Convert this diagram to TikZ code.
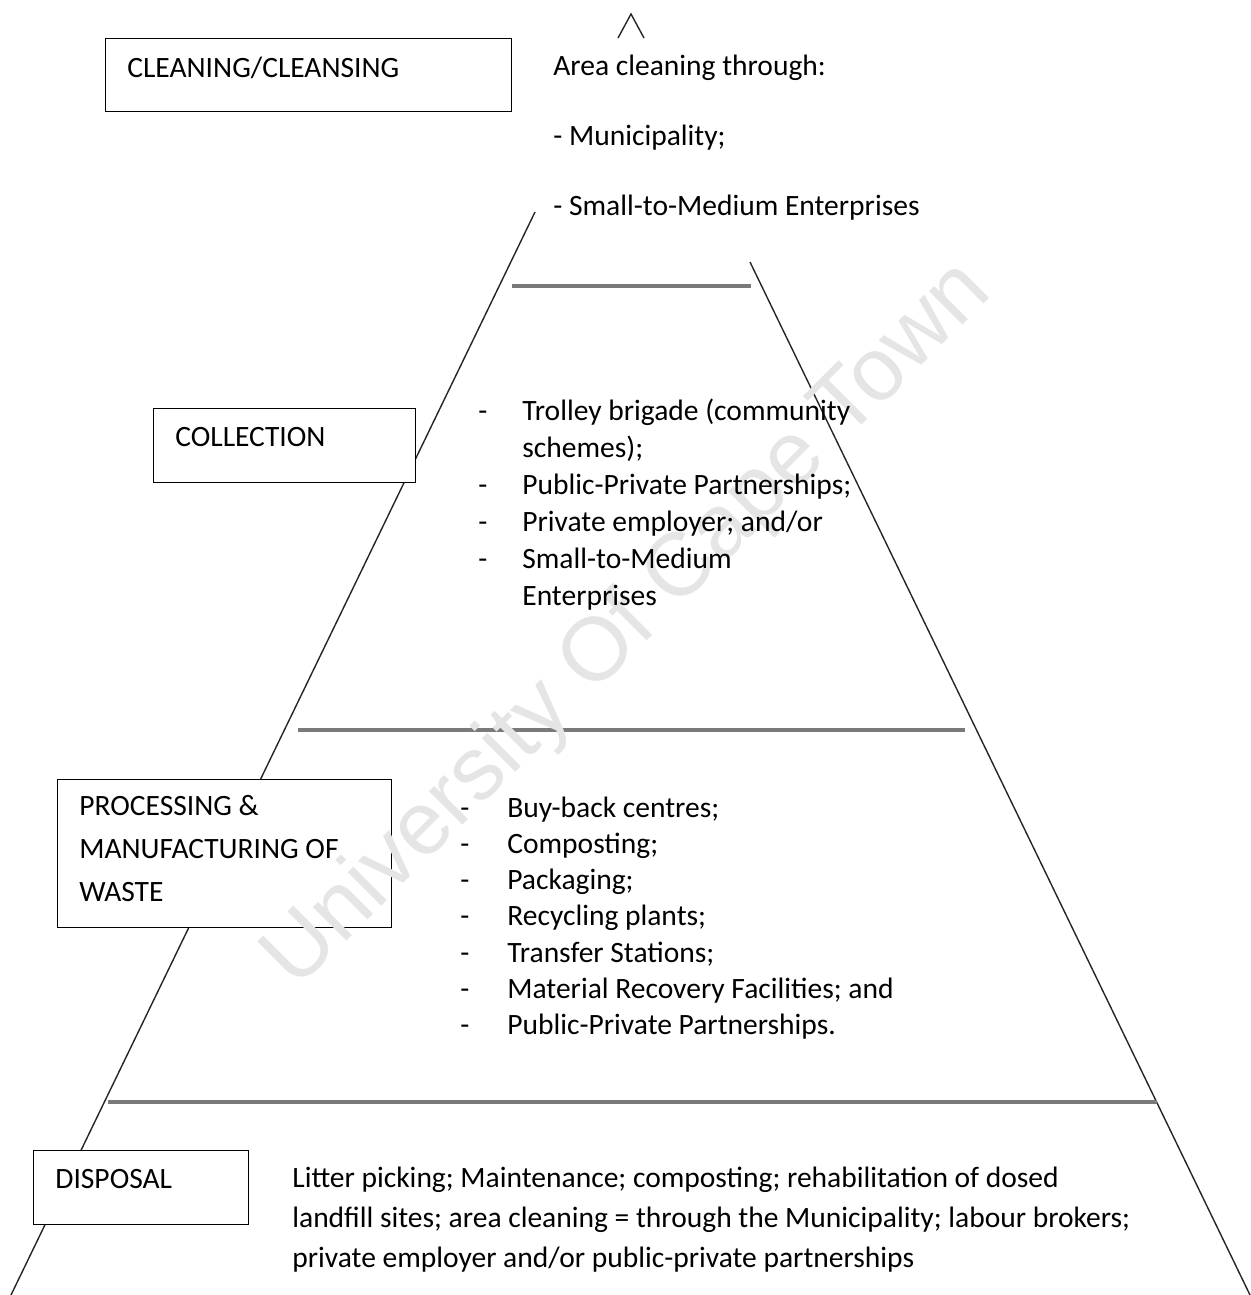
\documentclass[tikz,border=0pt]{standalone}
\usepackage{fontspec}
\setmainfont{Carlito}
\newfontfamily\wmfont{Liberation Sans}
\usetikzlibrary{positioning}

\tikzset{
  side/.style={black!85, line width=0.8pt},
  tier/.style={black!52, line width=1.8pt},
  stagebox/.style={draw, fill=white, line width=0.8pt, anchor=north west, inner sep=0pt},
  txt/.style={anchor=base west, inner sep=0pt, font=\fontsize{16.8}{19}\selectfont},
}

\begin{document}
\begin{tikzpicture}[x=0.02cm, y=-0.02cm]
  \useasboundingbox (0,0) rectangle (1251,1295);
   \coordinate (TopL) at (535,212);
   \coordinate (BotL) at (11,1295);
   \coordinate (TopR) at (750,262);
   \coordinate (BotR) at (1250,1295);
  \draw[side] (TopL) -- (BotL);
  \draw[side] (TopR) -- (BotR);
  \draw[side] (618,38) -- (631,14) -- (644,38);
  % tiers
  \draw[tier] (512,286) -- (751,286);
  \draw[tier] (298,730) -- (965,730);
  \draw[tier] (108,1102) -- (1157,1102);
  % stage boxes
  \node[stagebox, minimum width=8.12cm, minimum height=1.46cm] (clean) at (105,38) {};
  \node[stagebox, minimum width=5.24cm, minimum height=1.48cm] (collect) at (153,408) {};
  \node[stagebox, minimum width=6.68cm, minimum height=2.96cm] (process) at (57,779) {};
  \node[stagebox, minimum width=4.30cm, minimum height=1.48cm] (dispose) at (33,1150) {};
  % watermark
  \node[rotate=45, text=black!10, font=\wmfont\fontsize{51}{56}\selectfont] (uct) at (629,626) {University Of Cape Town};
  \node[txt] (cleanT) at (127,77) {CLEANING/CLEANSING};
  \node[txt] (collectT) at (175,446) {COLLECTION};
  \node[txt] (processA) at (79,815) {PROCESSING \&};
  \node[txt] (processB) at (79,858) {MANUFACTURING OF};
  \node[txt] (processC) at (79,901) {WASTE};
  \node[txt] (disposeT) at (55,1188) {DISPOSAL};
  % cleaning
  \node[txt] (area) at (553,75) {Area cleaning through:};
  \node[txt] (muni) at (553,145) {- Municipality;};
  \node[txt] (sme) at (553,215) {- Small-to-Medium Enterprises};
  % collection
  \foreach \t [count=\i from 0] in {Trolley brigade (community,schemes);,Public-Private Partnerships;,Private employer; and/or,Small-to-Medium,Enterprises}{%
    \node[txt] (col\i) at (522,420+37*\i) {\t};
  }
  \foreach \i in {0,2,3,4}{%
    \node[txt] (colDash\i) at (478,420+37*\i) {-};
  }
  % processing
  \foreach \t [count=\i from 0] in {Buy-back centres;,Composting;,Packaging;,Recycling plants;,Transfer Stations;,Material Recovery Facilities; and,Public-Private Partnerships.}{%
    \node[txt] (proc\i) at (507,817+36.3*\i) {\t};
    \node[txt] (procDash\i) at (460,817+36.3*\i) {-};
  }
  % disposal
  \node[txt] (dispA) at (292,1187) {Litter picking; Maintenance; composting; rehabilitation of dosed};
  \node[txt] (dispB) at (292,1227) {landfill sites; area cleaning = through the Municipality; labour brokers;};
  \node[txt] (dispC) at (292,1267) {private employer and/or public-private partnerships};
\end{tikzpicture}
\end{document}
